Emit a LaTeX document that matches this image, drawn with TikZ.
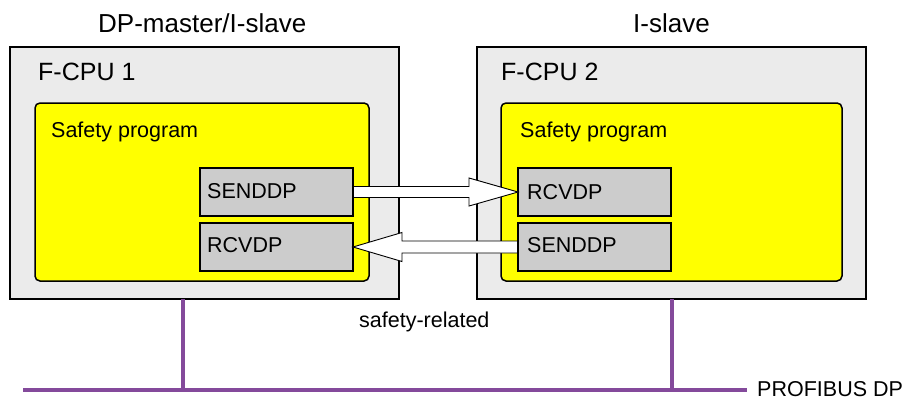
\documentclass[tikz,border=0pt]{standalone}
\usepackage{fontspec}
\setmainfont{Liberation Sans}
\usetikzlibrary{calc}
\definecolor{cpugray}{RGB}{235,235,235}
\definecolor{fbgray}{RGB}{204,204,204}
\definecolor{progyellow}{RGB}{255,255,0}
\definecolor{busviolet}{RGB}{132,74,155}
\begin{document}
\begin{tikzpicture}[x=1pt,y=-1pt,
  cpubox/.style={draw=black, fill=cpugray, line width=1.6pt, inner sep=0pt, outer sep=0pt, anchor=north west},
  progbox/.style={draw=black, fill=progyellow, line width=1.5pt, rounded corners=5pt, inner sep=0pt, outer sep=0pt, anchor=north west},
  fbbox/.style={draw=black, fill=fbgray, line width=1.8pt, inner sep=0pt, outer sep=0pt, anchor=north west, minimum width=153pt, minimum height=48pt},
  fatarrow/.style={draw=black, fill=white, line width=0.9pt, line join=miter},
  bus/.style={draw=busviolet, line width=4.5pt},
  hdr/.style={font=\fontsize{26}{30}\selectfont, inner sep=0pt, anchor=base west},
  cpulbl/.style={font=\fontsize{25}{29}\selectfont, inner sep=0pt, anchor=base west},
  lbl/.style={font=\fontsize{21.5}{25}\selectfont, inner sep=0pt, anchor=base west}
]
\useasboundingbox (0,0) rectangle (904,399);

% bus
\coordinate (busL) at (23,390);
\coordinate (busR) at (747,390);
\coordinate (tap1) at (183,390);
\coordinate (tap2) at (672,390);

% CPU boxes
\node[cpubox, minimum width=389pt, minimum height=252pt] (cpu1) at (10,47) {};
\node[cpubox, minimum width=389pt, minimum height=252pt] (cpu2) at (477,47) {};

\draw[bus] (busL) -- (busR);
\draw[bus] (cpu1.south -| tap1) -- (tap1);
\draw[bus] (cpu2.south -| tap2) -- (tap2);

% safety programs
\node[progbox, minimum width=334pt, minimum height=178pt] (prog1) at (35,103) {};
\node[progbox, minimum width=341pt, minimum height=178pt] (prog2) at (501,103) {};

% function blocks
\node[fbbox] (send1) at (200,168) {};
\node[fbbox] (recv1) at (200,223) {};
\node[fbbox] (recv2) at (518,168) {};
\node[fbbox] (send2) at (518,223) {};

% arrows
\draw[fatarrow] ($(send1.east)+(0,-5.5)$) -- ($(recv2.west)+(-49,-5.5)$) -- ($(recv2.west)+(-49,-14)$)
  -- (recv2.west) -- ($(recv2.west)+(-49,14)$) -- ($(recv2.west)+(-49,5.5)$) -- ($(send1.east)+(0,5.5)$) -- cycle;
\draw[fatarrow] ($(send2.west)+(0,-6)$) -- ($(recv1.east)+(49,-6)$) -- ($(recv1.east)+(49,-14.5)$)
  -- (recv1.east) -- ($(recv1.east)+(49,14.5)$) -- ($(recv1.east)+(49,6)$) -- ($(send2.west)+(0,6)$) -- cycle;
\draw[draw=black, line width=1.8pt] (send1.north east) -- (send1.south east);
\draw[draw=black, line width=1.8pt] (send2.north west) -- (send2.south west);

% texts
\node[hdr] (h1) at (98,32) {DP-master/I-slave};
\node[hdr] (h2) at (633,32) {I-slave};
\node[cpulbl] (c1) at (38,80) {F-CPU 1};
\node[cpulbl] (c2) at (501,80) {F-CPU 2};
\node[lbl] (p1) at (51,137) {Safety program};
\node[lbl] (p2) at (520,137) {Safety program};
\node[lbl] (ts1) at (207,198) {SENDDP};
\node[lbl] (tr1) at (207,252) {RCVDP};
\node[lbl] (tr2) at (527,199) {RCVDP};
\node[lbl] (ts2) at (527,252) {SENDDP};
\node[lbl] (sr) at (359,327) {safety-related};
\node[lbl] (pb) at (757,396) {PROFIBUS DP};
\end{tikzpicture}
\end{document}
